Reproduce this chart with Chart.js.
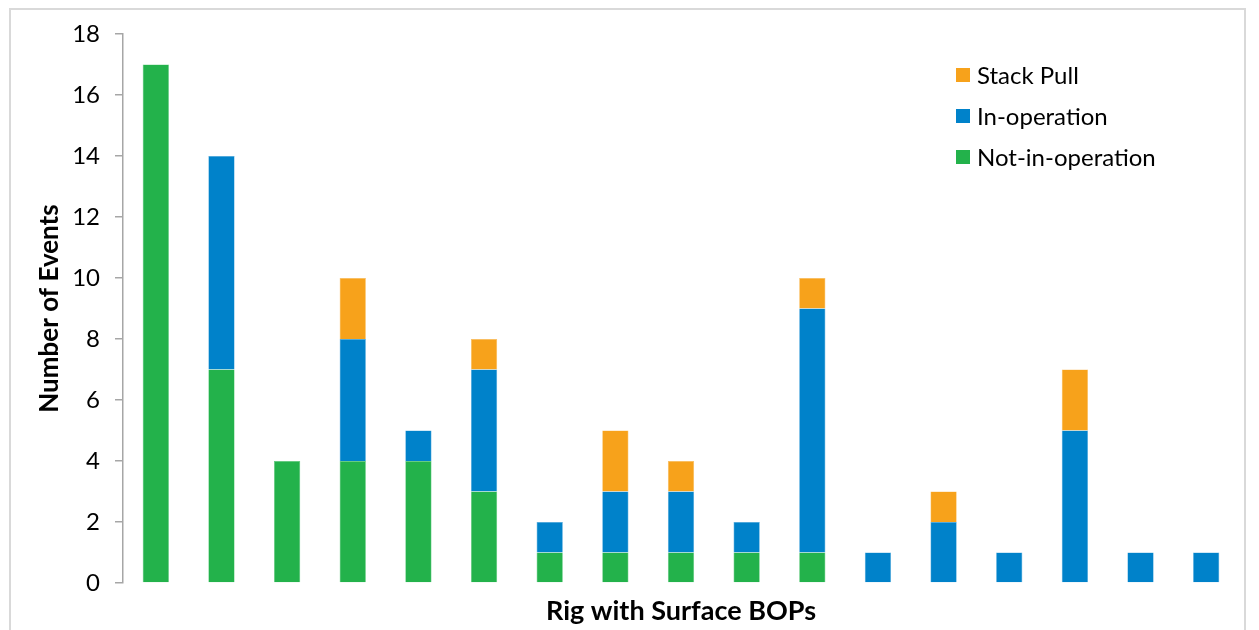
<!DOCTYPE html>
<html>
<head>
<meta charset="utf-8">
<script src="https://cdn.jsdelivr.net/npm/chart.js@4"></script>
<style>
  html, body { margin: 0; padding: 0; background: #fff; }
  #wrap { position: relative; width: 1259px; height: 630px; overflow: hidden; }
  #frame { position: absolute; left: 9px; top: 8px; width: 1237px; height: 700px; border: 2px solid #d9d9d9; box-sizing: border-box; }
  canvas { position: absolute; left: 0; top: 0; }
</style>
</head>
<body>
<div id="wrap">
  <div id="frame"></div>
  <canvas id="c" width="1259" height="630"></canvas>
</div>
<script>
// Events per rig, split by type
const rigs = ['1','2','3','4','5','6','7','8','9','10','11','12','13','14','15','16','17'];
const notInOperation = [17, 7, 4, 4, 4, 3, 1, 1, 1, 1, 1, 0, 0, 0, 0, 0, 0];
const inOperation    = [0, 7, 0, 4, 1, 4, 1, 2, 2, 1, 8, 1, 2, 1, 5, 1, 1];
const stackPull      = [0, 0, 0, 2, 0, 1, 0, 2, 1, 0, 1, 0, 1, 0, 2, 0, 0];
const yTicks = [0, 2, 4, 6, 8, 10, 12, 14, 16, 18];

const FONT = 'Lato, "Open Sans", sans-serif';

// Legend drawn as a vertical list inside the plot, top series first
const insideLegend = {
  id: 'insideLegend',
  afterDraw(chart) {
    const ctx = chart.ctx;
    const ds = chart.data.datasets.slice().reverse();
    const x0 = 956, y0 = 75, gap = 41, box = 14;
    ctx.save();
    ctx.font = '24px ' + FONT;
    ctx.textBaseline = 'middle';
    ds.forEach((d, i) => {
      const y = y0 + i * gap;
      ctx.fillStyle = d.backgroundColor;
      ctx.fillRect(x0, y - box / 2, box, box);
      ctx.fillStyle = '#000';
      ctx.fillText(d.label, x0 + box + 7, y + 1);
    });
    ctx.restore();
  }
};

new Chart(document.getElementById('c'), {
  type: 'bar',
  data: {
    labels: rigs,
    datasets: [
      { label: 'Not-in-operation', data: notInOperation, backgroundColor: '#23B24B', borderColor: '#5cc97a', borderWidth: 0.6 },
      { label: 'In-operation', data: inOperation, backgroundColor: '#0082CA', borderColor: '#4aa6dc', borderWidth: 0.6 },
      { label: 'Stack Pull', data: stackPull, backgroundColor: '#F7A21B', borderColor: '#f9bd5c', borderWidth: 0.6 }
    ]
  },
  options: {
    responsive: false,
    animation: false,
    devicePixelRatio: 1,
    layout: { padding: { top: 34, right: 20, left: 34, bottom: 0 } },
    datasets: { bar: { barPercentage: 0.4, categoryPercentage: 1.0 } },
    plugins: { legend: { display: false }, tooltip: { enabled: false } },
    scales: {
      x: {
        stacked: true,
        grid: { display: false },
        border: { display: false },
        ticks: { display: false },
        title: { display: true, text: 'Rig with Surface BOPs', color: '#000', font: { family: FONT, size: 27, weight: 'bold' }, padding: { top: 0, bottom: 3 } },
        afterFit(scale) { scale.height = 47; }
      },
      y: {
        stacked: true,
        min: 0,
        max: 18,
        afterBuildTicks(scale) { scale.ticks = yTicks.map(v => ({ value: v })); },
        ticks: { color: '#000', font: { family: FONT, size: 24 }, padding: 15 },
        grid: { drawOnChartArea: false, drawTicks: true, tickLength: 8, color: '#a6a6a6', lineWidth: 1.5 },
        border: { display: true, color: '#a6a6a6', width: 1.5 },
        title: { display: true, text: 'Number of Events', color: '#000', font: { family: FONT, size: 26, weight: 'bold' }, padding: { top: 0, bottom: 8 } },
        afterFit(scale) { scale.width = 89; }
      }
    }
  },
  plugins: [insideLegend]
});
</script>
</body>
</html>
